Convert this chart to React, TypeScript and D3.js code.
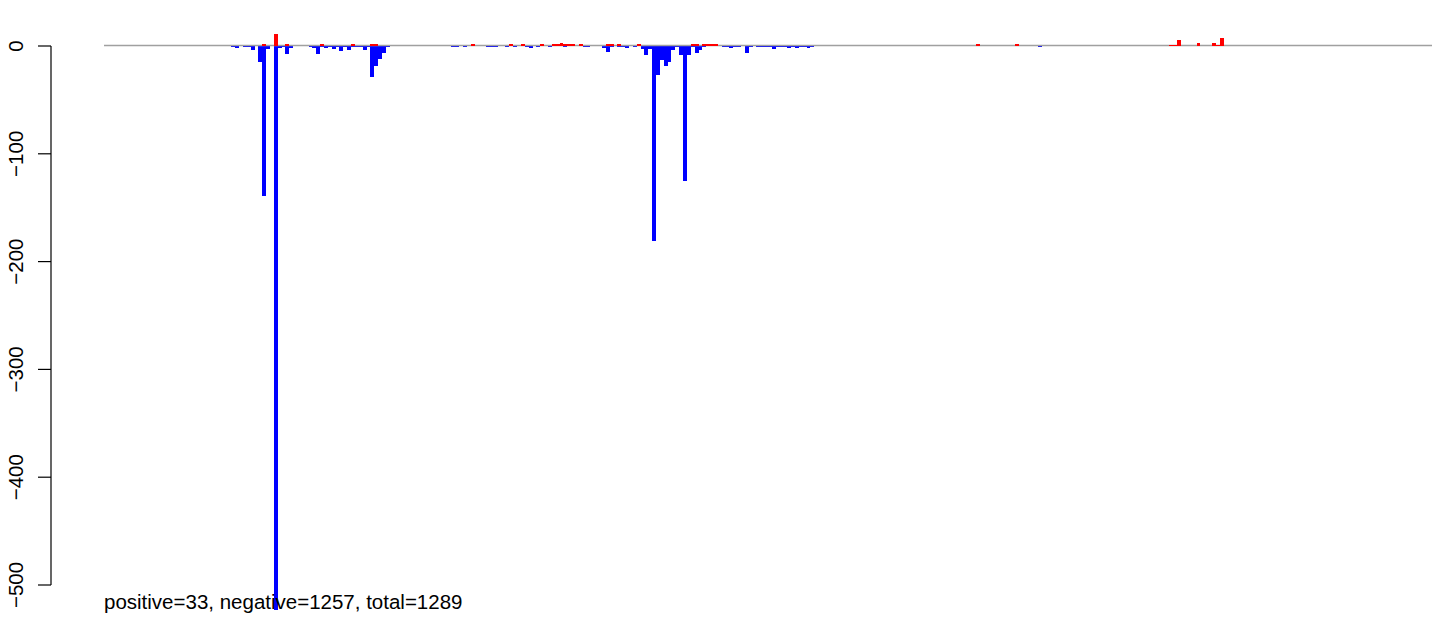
import React from "react";
import * as d3 from "d3";

// number of bins along the x axis
const binCount = 344;

// negative (blue) bars: bin index and value
const negBins = [
  33, 34, 36, 37, 38, 40, 41, 42, 44, 45, 46, 47, 48,
  53, 54, 55, 56, 57, 58, 59, 60, 61, 62, 63, 64, 65, 66, 67, 68, 69, 70, 71, 72, 73,
  90, 91, 93, 99, 100, 101, 104, 106, 109, 110, 112, 115, 119, 124, 125, 129, 130, 131, 133, 134, 135, 137,
  139, 140, 141, 142, 143, 144, 145, 146, 147, 148, 149, 150, 151, 152, 153, 154, 155,
  160, 161, 162, 163, 164, 166, 167, 169, 170, 171, 172, 173, 174, 175, 176, 177, 178, 179, 180, 181, 182, 183,
  242,
];
const negValues = [
  -1, -2, -1, -1, -3.5, -14.5, -139, -2.5, -523, -2, -1, -7, -1.5,
  -1, -2, -7, -1, -2, -1, -3, -1, -4.3, -1, -3.7, -1, -1, -1, -4, -1, -28.5, -18.5, -11.7, -6.2, -1,
  -1, -1, -1, -1, -0.5, -1, -1, -1, -1, -1.5, -1, -1, -1, -1, -1, -2, -5.6, -1, -1, -1, -1.5, -1,
  -3, -8, -3, -181, -26.6, -13, -18.3, -14.5, -3.7, -1, -8, -125, -8, -1, -6.5, -3.7, -1,
  -1, -1, -2, -1, -1, -6.5, -0.5, -1, -1, -1, -1, -2.5, -1, -1, -1, -1.5, -1, -2, -1, -1, -1.5, -1,
  -1,
];

// positive (red) bars: bin index and value
const posBins = [
  41, 44, 47, 56, 64, 69, 70, 95, 105, 108, 113, 116, 117, 118, 119, 120, 121, 123,
  130, 131, 133, 138, 152, 153, 155, 156, 157, 158, 226, 236, 276, 277, 278, 283, 287, 288, 289,
];
const posValues = [
  1, 11, 1, 1, 1, 1, 1, 1, 1, 1, 1, 1, 1, 2, 1, 1, 1, 1,
  1, 1, 1, 1, 1, 1, 1, 1, 1, 1, 1, 1, 0.5, 0.5, 5.5, 2, 2, 0.5, 7.4,
];

const yTicks = [0, -100, -200, -300, -400, -500];
const caption = "positive=33, negative=1257, total=1289";

const W = 1444;
const H = 617;

export default function App() {
  const x = d3
    .scaleBand<number>()
    .domain(d3.range(binCount))
    .range([104, 1432])
    .paddingInner(0)
    .paddingOuter(0);
  const y = d3.scaleLinear().domain([0, -500]).range([46, 585]);
  const axisX = 51;
  const font = "'Liberation Sans', Arial, Helvetica, sans-serif";

  return (
    <svg
      width={W}
      height={H}
      style={{ position: "absolute", left: 0, top: 0, background: "#fff" }}
    >
      <g shapeRendering="crispEdges">
        {negBins.map((b, i) => (
          <rect
            key={"n" + i}
            x={x(b)!}
            width={x.bandwidth()}
            y={y(0)}
            height={y(negValues[i]) - y(0)}
            fill="#0000ff"
          />
        ))}
      </g>
      <line x1={104} x2={1432} y1={y(0) - 0.5} y2={y(0) - 0.5} stroke="#a0a0a0" strokeWidth={1.4} />
      <g shapeRendering="crispEdges">
        {posBins.map((b, i) => (
          <rect
            key={"p" + i}
            x={x(b)!}
            width={x.bandwidth()}
            y={y(posValues[i]) - 0.5}
            height={y(0) - y(posValues[i])}
            fill="#ff0000"
          />
        ))}
      </g>
      {/* y axis */}
      <line x1={axisX} x2={axisX} y1={y(0)} y2={y(-500)} stroke="#000" strokeWidth={1.2} />
      {yTicks.map((t) => (
        <g key={t}>
          <line x1={axisX - 13} x2={axisX} y1={y(t)} y2={y(t)} stroke="#000" strokeWidth={1.2} />
          <text
            transform={`translate(${23},${y(t)}) rotate(-90)`}
            textAnchor="middle"
            fontFamily={font}
            fontSize={20.5}
            fill="#000"
          >
            {t < 0 ? "\u2212" + Math.abs(t) : String(t)}
          </text>
        </g>
      ))}
      <text x={104} y={609} fontFamily={font} fontSize={20.5} fill="#000">
        {caption}
      </text>
    </svg>
  );
}
